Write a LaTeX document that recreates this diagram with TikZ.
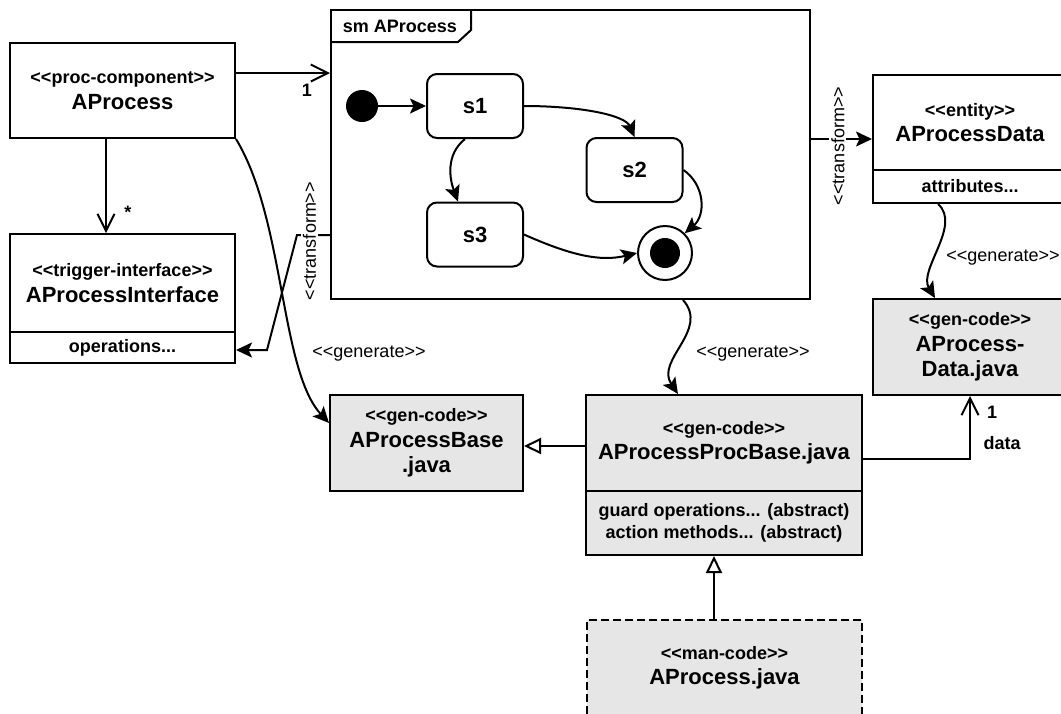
\documentclass[tikz,border=0pt]{standalone}
\usepackage{fontspec}
\setmainfont{Liberation Sans}[Ligatures=TeXOff]
\usetikzlibrary{arrows.meta}

\definecolor{codegray}{RGB}{230,230,230}
\newcommand\stfont{\fontsize{18}{25.5}\selectfont\bfseries}
\newcommand\nmfont{\fontsize{22}{25.5}\selectfont\bfseries}
\newcommand\lbfont{\fontsize{18}{22}\selectfont}
\newcommand\opfont{\fontsize{18}{22}\selectfont\bfseries}

\tikzset{
  umlbox/.style={draw, line width=2pt, rectangle, align=center, inner sep=0pt, font=\stfont},
  codebox/.style={umlbox, fill=codegray},
  statebox/.style={draw, line width=2pt, rounded corners=10pt, minimum width=96pt,
    minimum height=64pt, inner sep=0pt, font=\nmfont},
  wire/.style={line width=2pt},
  filledtip/.style={wire, -{Stealth[length=16pt,width=15pt,inset=3.5pt]}},
  opentip/.style={wire, -{Straight Barb[length=17pt,width=17pt]}},
  inherit/.style={wire, -{Triangle[open,length=17pt,width=16pt,fill=white]}},
  lbl/.style={font=\lbfont, inner sep=1pt},
  vlbl/.style={font=\lbfont, inner sep=2pt, fill=white, rotate=90},
  mult/.style={font=\stfont, inner sep=1pt},
}

\begin{document}
\begin{tikzpicture}[x=1pt,y=-1pt]
\useasboundingbox (0,0) rectangle (1061,713);
\fill[white] (0,0) rectangle (1061,713);
\clip (0,0) rectangle (1061,713);

% --- component and its trigger interface
\node[umlbox, minimum width=225pt, minimum height=95pt] (aproc) at (122.5,90.5)
  {<<proc-component>>\\{\nmfont AProcess}};
\node[umlbox, minimum width=225pt, minimum height=98pt] (ifc) at (122.5,283)
  {<<trigger-interface>>\\{\nmfont AProcessInterface}};
\node[umlbox, minimum width=225pt, minimum height=31pt] (ifcops) at (122.5,347.5)
  {operations...};

% --- state machine frame
\node[draw, line width=2pt, minimum width=479pt, minimum height=289pt, inner sep=0pt]
  (smframe) at (570.5,154.5) {};
\draw[wire] (331,42) -- (458,42) -- (471,30) -- (471,10);
\node[font=\stfont, inner sep=0pt] (smname) at (400,26) {sm AProcess};

\node[circle, fill=black, minimum size=32pt, inner sep=0pt] (init) at (362,106) {};
\node[statebox] (s1) at (475,106) {s1};
\node[statebox] (s2) at (634.5,170) {s2};
\node[statebox] (s3) at (475,234.5) {s3};
\node[circle, draw, line width=2pt, fill=white, minimum size=54pt, inner sep=0pt] (fin) at (665,253) {};
\node[circle, fill=black, minimum size=30pt, inner sep=0pt] (finin) at (fin.center) {};

\draw[filledtip] (init) -- (s1);
\draw[filledtip] (s1.east) .. controls (580,106) and (625,115) .. (s2.north);
\draw[filledtip] ([xshift=-10pt]s1.south) .. controls (445,155) and (450,180) .. ([xshift=-17pt]s3.north);
\draw[filledtip] (s2.east) .. controls (705,185) and (706,215) .. (fin.45);
\draw[filledtip] (s3.east) .. controls (570,255) and (600,262) .. (fin.west);

% --- entity
\node[umlbox, minimum width=194pt, minimum height=95pt] (pdata) at (970,122.5)
  {<<entity>>\\{\nmfont AProcessData}};
\node[umlbox, minimum width=194pt, minimum height=33pt] (pdattr) at (970,186.5)
  {attributes...};

% --- generated and hand-written code
\node[codebox, minimum width=194pt, minimum height=96pt] (pdjava) at (970,347)
  {<<gen-code>>\\{\nmfont AProcess-}\\{\nmfont Data.java}};
\node[codebox, minimum width=193pt, minimum height=96pt] (base) at (426.5,443)
  {<<gen-code>>\\{\nmfont AProcessBase}\\{\nmfont .java}};
\node[codebox, minimum width=276pt, minimum height=96pt] (procbase) at (724,443)
  {<<gen-code>>\\{\nmfont AProcessProcBase.java}};
\node[codebox, minimum width=276pt, minimum height=64pt, font=\opfont] (procops) at (724,523)
  {guard operations... (abstract)\\action methods... (abstract)};
\node[codebox, dash pattern=on 8pt off 4pt, minimum width=275pt, minimum height=96pt] (manjava) at (724.5,668)
  {<<man-code>>\\{\nmfont AProcess.java}};

% --- helper heights / columns for straight connectors
\coordinate (yA) at (0,73);
\coordinate (yT) at (0,139);
\coordinate (yL) at (0,235);
\coordinate (yO) at (0,350);
\coordinate (yI) at (0,446);
\coordinate (yD) at (0,459);
\coordinate (xA) at (106,0);
\coordinate (xG) at (683,0);
\coordinate (xH) at (678,0);
\coordinate (xE) at (938,0);
\coordinate (xF) at (935,0);
\coordinate (xM) at (714,0);

% --- associations
\draw[opentip] (aproc.east |- yA) -- (smframe.west |- yA);
\node[mult] (m1) at (307,90) {1};
\draw[opentip] (aproc.south -| xA) -- (ifc.north -| xA);
\node[mult] (mstar) at (128,212) {*};
\draw[opentip] (procbase.east |- yD) -| (pdjava.south);
\node[mult] (m2) at (992,412) {1};
\node[mult] (mdata) at (1002,443) {data};

% --- transformations (labels are rotated, so xshift moves them along the page's vertical)
\draw[filledtip] (smframe.east |- yT) -- node[vlbl, pos=0.44, xshift=-7pt] {<<transform>>} (pdata.west |- yT);
\draw[filledtip] (smframe.west |- yL) -- node[vlbl, pos=0.62, xshift=-6pt] {<<transform>>} (297,235)
  -- (267,350) -- (ifcops.east |- yO);

% --- code generation
\draw[filledtip] (aproc.south east) .. controls (285,220) and (280,370) .. ([yshift=20pt]base.west);
\node[lbl] (g1) at (369,354) {<<generate>>};
\draw[filledtip] (smframe.south -| xG) .. controls (710,330) and (655,360) .. (procbase.north -| xH);
\node[lbl] (g2) at (753,354) {<<generate>>};
\draw[filledtip] (pdattr.south -| xE) .. controls (962,225) and (918,270) .. (pdjava.north -| xF);
\node[lbl] (g3) at (1003,258) {<<generate>>};

% --- generalisations
\draw[inherit] (procbase.west |- yI) -- (base.east |- yI);
\draw[inherit] (manjava.north -| xM) -- (procops.south -| xM);
\end{tikzpicture}
\end{document}
